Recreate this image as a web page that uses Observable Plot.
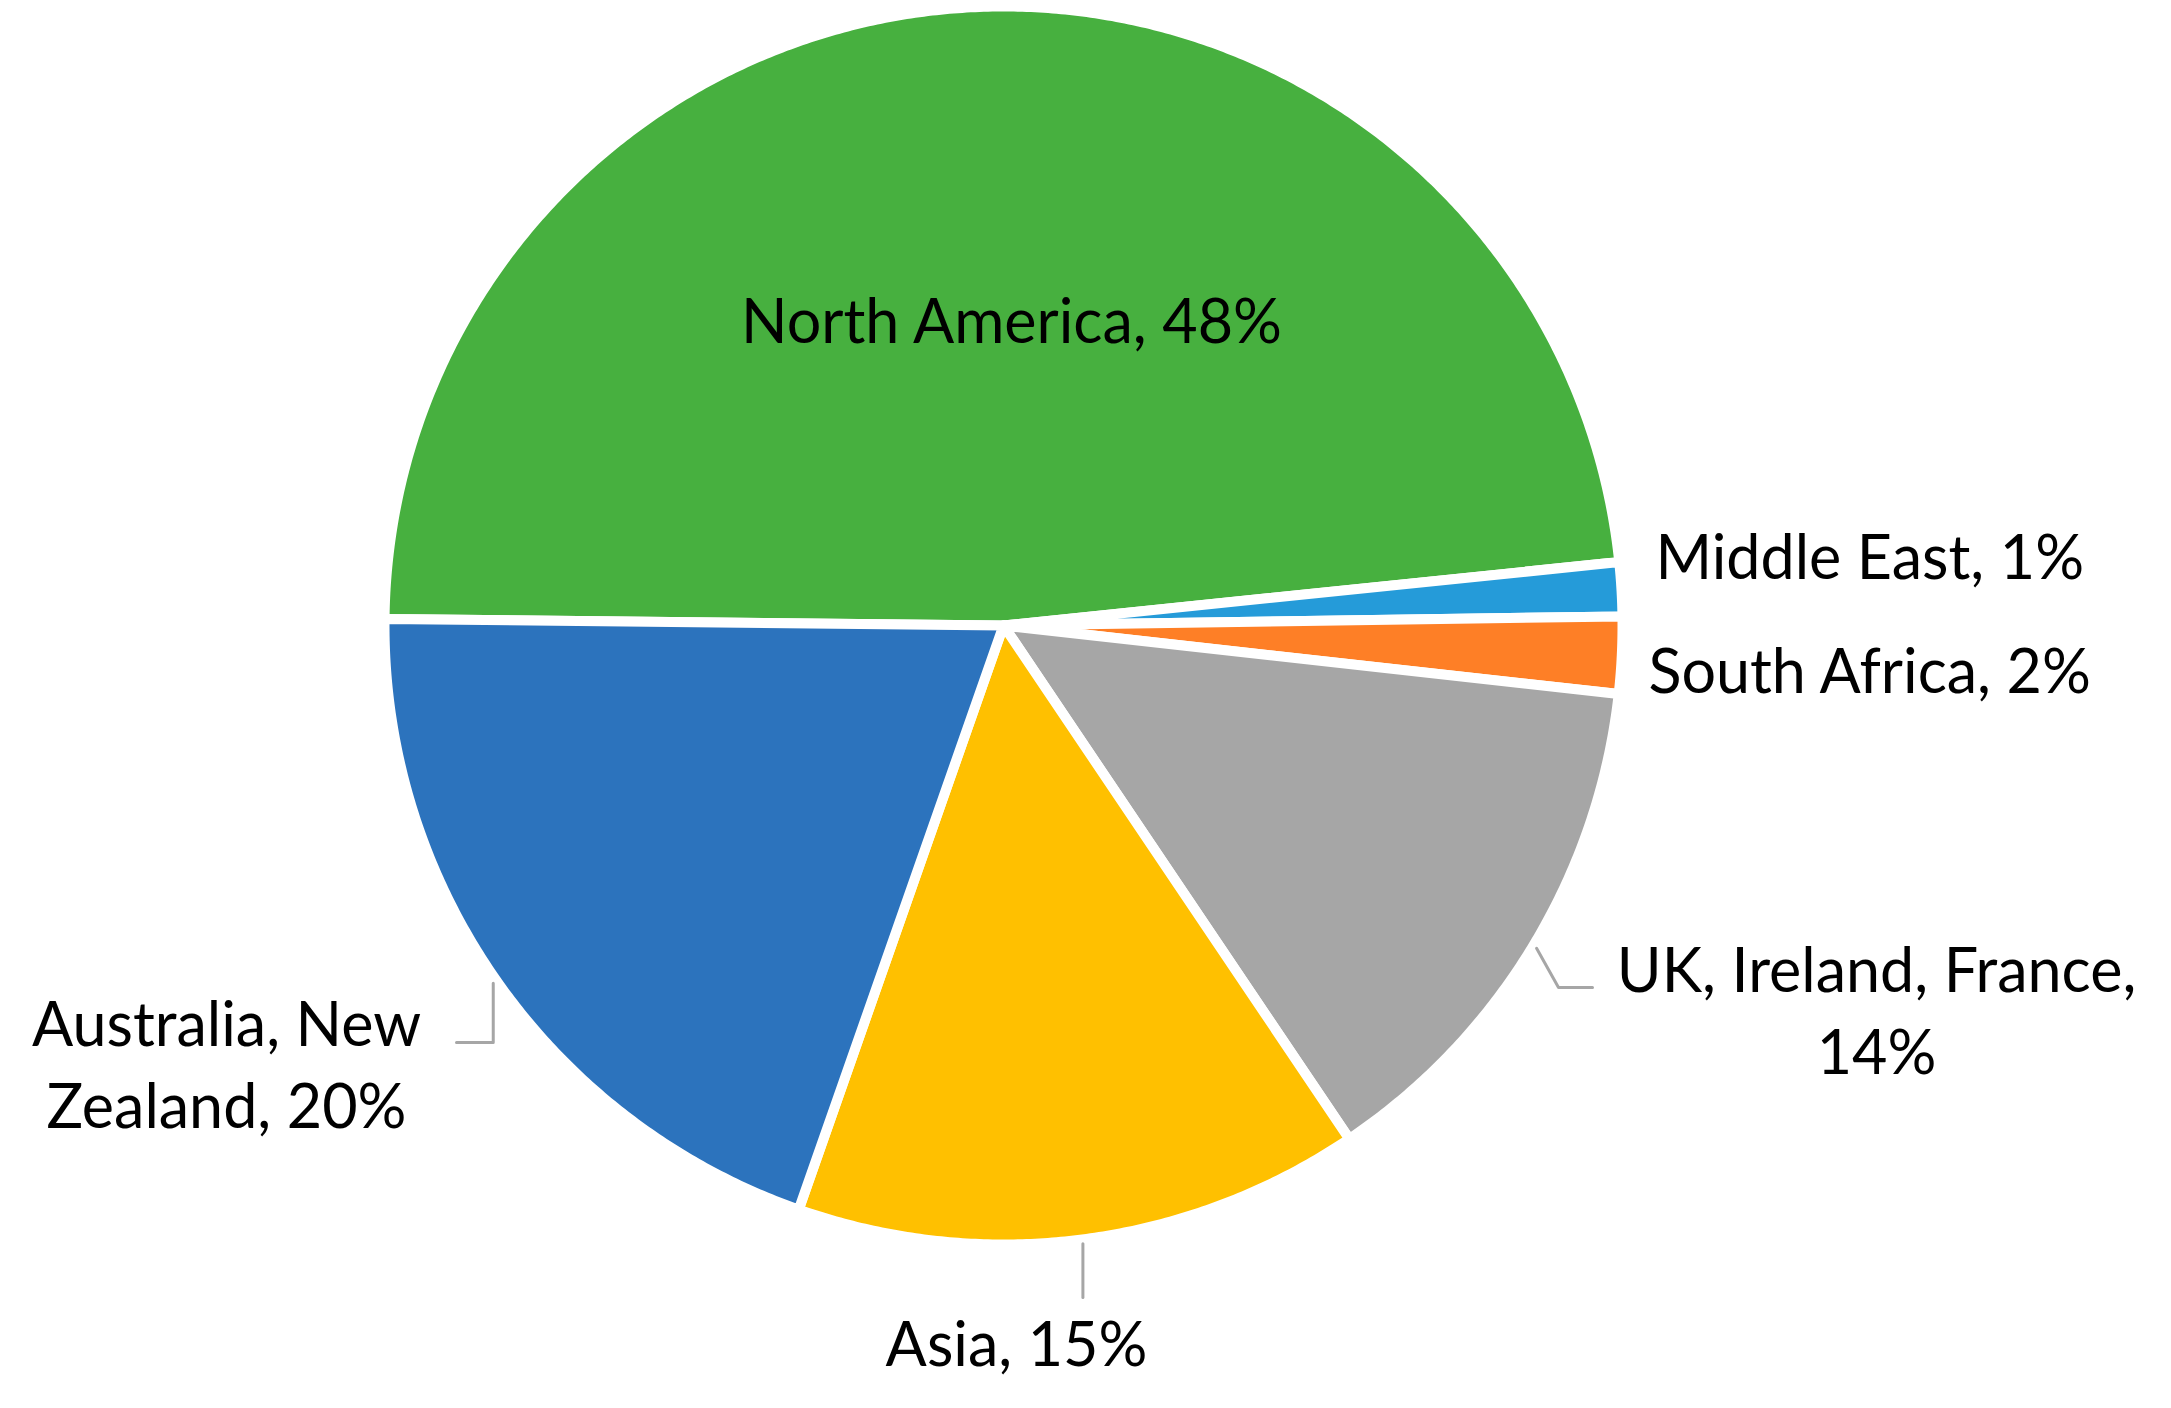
<!DOCTYPE html>
<html>
<head>
<meta charset="utf-8">
<script src="https://cdn.jsdelivr.net/npm/d3@7"></script>
<script src="https://cdn.jsdelivr.net/npm/@observablehq/plot@0.6"></script>
<style>
  html, body { margin: 0; padding: 0; background: #ffffff; }
  svg { display: block; }
</style>
</head>
<body>
<div id="chart"></div>
<script>
// ---------------- data ----------------
const regions = ["North America", "Middle East", "South Africa", "UK, Ireland, France", "Asia", "Australia, New Zealand"];
const shares = [48.2, 1.4, 2.0, 13.8, 14.8, 19.8];   // percent
const labelText = ["North America, 48%", "Middle East, 1%", "South Africa, 2%", "UK, Ireland, France,\n14%", "Asia, 15%", "Australia, New\nZealand, 20%"];
const sliceColors = ["#47b03f", "#259bd9", "#fe7f26", "#a6a6a6", "#ffc000", "#2c73bd"];

// ---------------- layout ----------------
const W = 2171, H = 1408;
const CX = 1003, CY = 625, R = 614;     // pie centre and visible radius in px
const START_DEG = 270.6;                // first slice start, clockwise from 12 o'clock
const BORDER = 10;
const px2x = px => (px - CX) / R;
const py2y = py => (CY - py) / R;

// label placement (pixels): anchor, x, baseline of last line, optional leader path
// leader steps: ["v", py] = vertical to py, ["h", px] = horizontal to px, [px, py] = point
const labelLayout = [
  {anchor: "middle", x: 1011, y: 342},
  {anchor: "start",  x: 1655, y: 578},
  {anchor: "start",  x: 1648, y: 692},
  {anchor: "middle", x: 1876, y: 1073, leader: [[1558, 987], ["h", 1592]]},
  {anchor: "middle", x: 1016, y: 1365, leader: [["v", 1297]]},
  {anchor: "middle", x: 226,  y: 1127, leader: [["v", 1042], ["h", 456]]}
];

// ---------------- geometry from data ----------------
const total = d3.sum(shares);
let cum = 0;
const slices = regions.map((region, i) => {
  const a0 = START_DEG + cum / total * 360;
  cum += shares[i];
  const a1 = START_DEG + cum / total * 360;
  return {region, a0, a1, mid: (a0 + a1) / 2};
});
const rad = d => d * Math.PI / 180;
const polar = (deg, r) => ({x: r * Math.sin(rad(deg)), y: r * Math.cos(rad(deg))});

const rOuter = 1 + (BORDER / 2) / R;
const slicePts = [];
slices.forEach(s => {
  slicePts.push({region: s.region, x: 0, y: 0});
  const n = Math.max(2, Math.ceil((s.a1 - s.a0) / 0.4));
  for (let k = 0; k <= n; ++k) {
    const a = s.a0 + (s.a1 - s.a0) * k / n;
    const p = polar(a, rOuter);
    slicePts.push({region: s.region, x: p.x, y: p.y});
  }
  slicePts.push({region: s.region, x: 0, y: 0});
});

const leaderPts = [];
slices.forEach((s, i) => {
  const L = labelLayout[i];
  if (!L.leader) return;
  let p = polar(s.mid, 1.015);
  leaderPts.push({region: s.region, x: p.x, y: p.y});
  L.leader.forEach(step => {
    if (step[0] === "v") p = {x: p.x, y: py2y(step[1])};
    else if (step[0] === "h") p = {x: px2x(step[1]), y: p.y};
    else p = {x: px2x(step[0]), y: py2y(step[1])};
    leaderPts.push({region: s.region, x: p.x, y: p.y});
  });
});

const labels = slices.map((s, i) => ({
  region: s.region,
  text: labelText[i],
  anchor: labelLayout[i].anchor,
  x: px2x(labelLayout[i].x),
  y: py2y(labelLayout[i].y)
}));

const textOpts = anchor => ({
  filter: d => d.anchor === anchor,
  x: "x", y: "y", text: "text",
  textAnchor: anchor,
  lineAnchor: "bottom",
  lineHeight: 1.34,
  fontSize: 61,
  fontFamily: "Lato, 'Open Sans', sans-serif",
  fill: "#000000"
});

const chart = Plot.plot({
  width: W,
  height: H,
  margin: 0,
  style: {background: "#ffffff"},
  x: {domain: [px2x(0), px2x(W)], axis: null},
  y: {domain: [py2y(H), py2y(0)], axis: null},
  color: {domain: regions, range: sliceColors},
  marks: [
    Plot.line(slicePts, {x: "x", y: "y", z: "region", fill: "region", stroke: "#ffffff", strokeWidth: BORDER, strokeLinejoin: "round", curve: "linear"}),
    Plot.line(leaderPts, {x: "x", y: "y", z: "region", stroke: "#a6a6a6", strokeWidth: 3, curve: "linear"}),
    Plot.text(labels, textOpts("middle")),
    Plot.text(labels, textOpts("start"))
  ]
});
document.getElementById("chart").appendChild(chart);
</script>
</body>
</html>
